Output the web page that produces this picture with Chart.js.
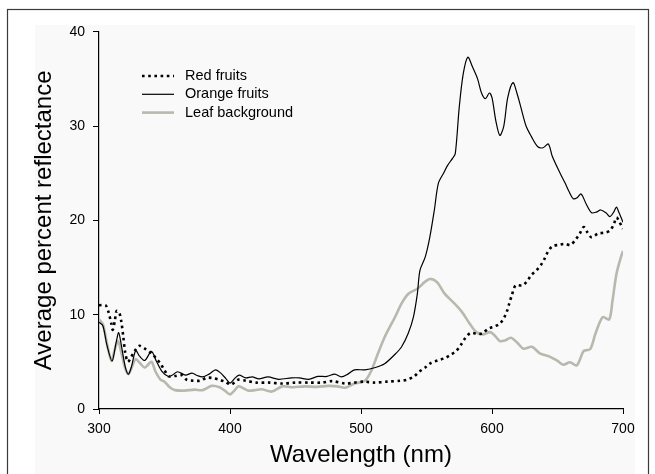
<!DOCTYPE html>
<html>
<head>
<meta charset="utf-8">
<script src="https://cdn.jsdelivr.net/npm/chart.js@4"></script>
<style>
  html, body { margin: 0; padding: 0; background: #fff; }
  #wrap { width: 655px; height: 474px; }
</style>
</head>
<body>
<div id="wrap"><canvas id="chart" width="655" height="474"></canvas></div>
<script>
// wavelengths (nm) and average percent reflectance
const redWl = [300, 305, 307, 309.5, 310.5, 312, 313.5, 315.5, 317, 318.5, 320, 322, 324.5, 328, 331, 335, 340, 344, 347, 350, 353.5, 358, 363, 367, 372, 377, 382, 386, 392, 396, 401, 406, 412, 420, 430, 440, 450, 460, 470, 478, 488, 495, 502, 510, 520, 530, 535, 540, 544, 549, 553.5, 558.5, 564, 568, 573, 576.5, 579.5, 583.5, 588, 592.5, 597, 602, 606, 609.5, 611.5, 613, 615, 618, 623, 626.5, 630, 634, 637.5, 640, 642, 646, 651, 655.5, 660, 664, 667, 670, 673, 676, 681, 686, 690, 693, 695, 697, 700];
const redVal = [11.0, 11.0, 10.4, 9.0, 8.4, 9.3, 10.4, 10.2, 9.3, 7.7, 6.0, 5.0, 5.5, 6.3, 6.7, 6.4, 5.9, 5.3, 4.8, 4.1, 3.45, 3.5, 3.6, 3.1, 3.0, 3.0, 3.3, 3.3, 3.1, 2.9, 2.6, 3.1, 3.0, 2.8, 2.8, 2.7, 2.8, 2.8, 2.8, 2.95, 2.7, 2.8, 2.9, 2.8, 2.9, 3.0, 3.1, 3.4, 3.9, 4.4, 4.9, 5.15, 5.4, 5.7, 6.2, 6.85, 7.5, 8.05, 8.0, 8.0, 8.5, 8.76, 9.05, 9.75, 10.4, 11.1, 12.0, 13.1, 13.1, 13.5, 14.2, 14.7, 15.3, 15.9, 16.5, 17.25, 17.4, 17.5, 17.4, 18.0, 18.6, 19.3, 18.7, 18.2, 18.6, 18.7, 18.9, 19.6, 20.3, 19.9, 19.1];

const orangeWl = [300, 303, 306, 310, 313, 315, 317, 320, 322.5, 325, 328, 331, 335, 340, 344, 348, 353, 356, 360, 366, 371, 375, 379, 384, 389, 393, 397, 400, 404, 407, 412, 417, 422, 429, 437, 447, 453, 460, 467, 474, 480, 485, 490, 495, 503, 511, 518, 526, 531, 536, 540, 543, 545, 549, 552.5, 556, 559, 563, 566, 570, 572, 575, 578, 581.5, 585, 589, 592, 595, 598, 600, 603, 606, 609, 612, 616, 619, 622, 626, 630, 635, 639, 643, 646, 652, 656, 659, 662, 665, 668, 672, 676, 680, 683, 687, 690, 693, 695, 697, 700];
const orangeVal = [9.2, 8.8, 6.8, 5.1, 7.0, 8.1, 6.8, 4.5, 3.7, 4.6, 6.2, 5.6, 5.15, 6.1, 5.0, 4.0, 3.45, 3.6, 3.95, 3.6, 3.8, 3.55, 3.4, 3.7, 4.15, 3.8, 3.2, 2.75, 3.3, 3.6, 3.3, 3.4, 3.2, 3.4, 3.15, 3.3, 3.3, 3.15, 3.45, 3.45, 3.7, 3.4, 3.7, 4.15, 4.15, 4.4, 4.8, 5.8, 6.6, 8.0, 9.75, 12.2, 14.7, 16.1, 18.2, 21.1, 23.9, 25.0, 25.8, 26.6, 27.1, 32.0, 35.5, 37.3, 36.3, 35.0, 33.5, 32.9, 33.5, 33.0, 30.5, 29.0, 30.0, 33.0, 34.6, 33.5, 32.0, 30.0, 28.9, 27.8, 27.7, 28.1, 26.8, 25.0, 23.9, 23.0, 22.3, 22.4, 22.8, 21.7, 20.8, 20.9, 21.1, 20.8, 20.4, 20.9, 21.4, 20.8, 19.8];

const leafWl = [300, 303, 306, 309.5, 312, 314.5, 317, 320, 322.5, 325, 328, 331, 335, 340, 343, 347, 350, 354, 358, 365, 373, 379, 386, 392, 396, 400, 403, 406.5, 410, 414, 419, 424, 432, 440, 448, 457, 466, 475, 482, 488, 495, 503, 508, 513, 518, 522, 526, 531, 536, 543, 549, 553, 558, 564, 570.5, 577, 583, 588, 593, 598.5, 602, 606, 610, 614.5, 619.5, 624, 630.5, 636.5, 644, 650, 654.5, 659.5, 664.5, 667, 670, 675, 679, 684.5, 689.5, 692, 695, 698, 700];
const leafVal = [9.5, 9.0, 7.0, 5.1, 6.3, 7.2, 6.0, 4.3, 3.7, 4.4, 5.3, 4.9, 4.4, 5.0, 4.0, 3.1, 2.9, 2.3, 2.0, 1.95, 2.05, 2.0, 2.45, 2.3, 1.95, 1.55, 1.9, 2.4, 2.2, 1.95, 2.0, 2.1, 1.85, 2.4, 2.3, 2.4, 2.35, 2.45, 2.4, 2.25, 2.7, 3.0, 4.1, 5.9, 7.6, 8.7, 9.75, 11.2, 12.2, 12.75, 13.5, 13.8, 13.45, 12.2, 11.3, 10.3, 9.05, 8.15, 7.9, 8.15, 7.8, 7.2, 7.27, 7.55, 7.0, 6.4, 6.6, 5.9, 5.55, 5.1, 4.7, 4.95, 4.6, 5.2, 6.15, 6.35, 8.0, 9.75, 9.5, 11.5, 14.3, 15.9, 16.75];

const xTicks = [300, 400, 500, 600, 700];
const yTicks = [0, 10, 20, 30, 40];

const toPoints = (xs, ys) => xs.map((x, i) => ({ x: x, y: ys[i] }));

// frame and shaded panel behind the chart
const frame = {
    id: 'frame',
    beforeDraw(chart) {
        const ctx = chart.ctx;
        ctx.save();
        ctx.fillStyle = '#fff';
        ctx.fillRect(0, 0, chart.width, chart.height);
        ctx.fillStyle = '#f9f9f9';
        ctx.fillRect(35, 25, 600, 460);
        ctx.strokeStyle = '#3a3a3a';
        ctx.lineWidth = 1.2;
        ctx.strokeRect(7.5, 9.5, 641, 480);
        ctx.restore();
    }
};

// legend drawn inside the plot area, top left
const insideLegend = {
    id: 'insideLegend',
    afterDatasetsDraw(chart) {
        const ctx = chart.ctx;
        ctx.save();
        chart.data.datasets.forEach((ds, i) => {
            const y = 76 + i * 18.3;
            ctx.beginPath();
            ctx.strokeStyle = ds.borderColor;
            ctx.lineWidth = ds.borderWidth;
            ctx.setLineDash(ds.borderDash || []);
            ctx.moveTo(142, y);
            ctx.lineTo(174, y);
            ctx.stroke();
            ctx.setLineDash([]);
            ctx.fillStyle = '#000';
            ctx.font = '14.5px "Liberation Sans", Arial, sans-serif';
            ctx.textBaseline = 'middle';
            ctx.fillText(ds.label, 185, y);
        });
        ctx.restore();
    }
};

const ctx = document.getElementById('chart').getContext('2d');
const chart = new Chart(ctx, {
    type: 'line',
    data: {
        datasets: [{
            label: 'Red fruits',
            data: toPoints(redWl, redVal),
            borderColor: '#000',
            borderWidth: 2.6,
            borderDash: [2.6, 3.6],
            pointRadius: 0,
            tension: 0.3,
            fill: false
        }, {
            label: 'Orange fruits',
            data: toPoints(orangeWl, orangeVal),
            borderColor: '#000',
            borderWidth: 1.2,
            pointRadius: 0,
            tension: 0.3,
            fill: false
        }, {
            label: 'Leaf background',
            data: toPoints(leafWl, leafVal),
            borderColor: 'rgb(184, 184, 174)',
            borderWidth: 2.6,
            pointRadius: 0,
            tension: 0.3,
            fill: false
        }]
    },
    options: {
        responsive: false,
        animation: false,
        layout: { padding: { top: 31.7, right: 32, bottom: 0, left: 0 } },
        plugins: {
            legend: { display: false },
            tooltip: { enabled: false }
        },
        scales: {
            x: {
                type: 'linear',
                min: 300,
                max: 700,
                afterFit: (scale) => { scale.height = 65; },
                afterBuildTicks: (scale) => { scale.ticks = xTicks.map(v => ({ value: v })); },
                border: { display: true, color: '#000', width: 1.2 },
                grid: { drawOnChartArea: false, drawTicks: true, tickLength: 5, color: '#000' },
                ticks: {
                    color: '#000',
                    padding: 7,
                    maxRotation: 0,
                    font: { family: '"Liberation Sans", Arial, sans-serif', size: 14 }
                },
                title: {
                    display: true,
                    text: 'Wavelength (nm)',
                    color: '#000',
                    padding: { top: 0, bottom: 4 },
                    font: { family: '"Liberation Sans", Arial, sans-serif', size: 24 }
                }
            },
            y: {
                min: 0,
                max: 40,
                afterFit: (scale) => { scale.width = 99; },
                afterBuildTicks: (scale) => { scale.ticks = yTicks.map(v => ({ value: v })); },
                border: { display: true, color: '#000', width: 1.2 },
                grid: { drawOnChartArea: false, drawTicks: true, tickLength: 6, color: '#000' },
                ticks: {
                    color: '#000',
                    padding: 8,
                    font: { family: '"Liberation Sans", Arial, sans-serif', size: 14 }
                },
                title: {
                    display: true,
                    text: 'Average percent reflectance',
                    color: '#000',
                    padding: { top: 30, bottom: 0 },
                    font: { family: '"Liberation Sans", Arial, sans-serif', size: 24 }
                }
            }
        }
    },
    plugins: [frame, insideLegend]
});
</script>
</body>
</html>
